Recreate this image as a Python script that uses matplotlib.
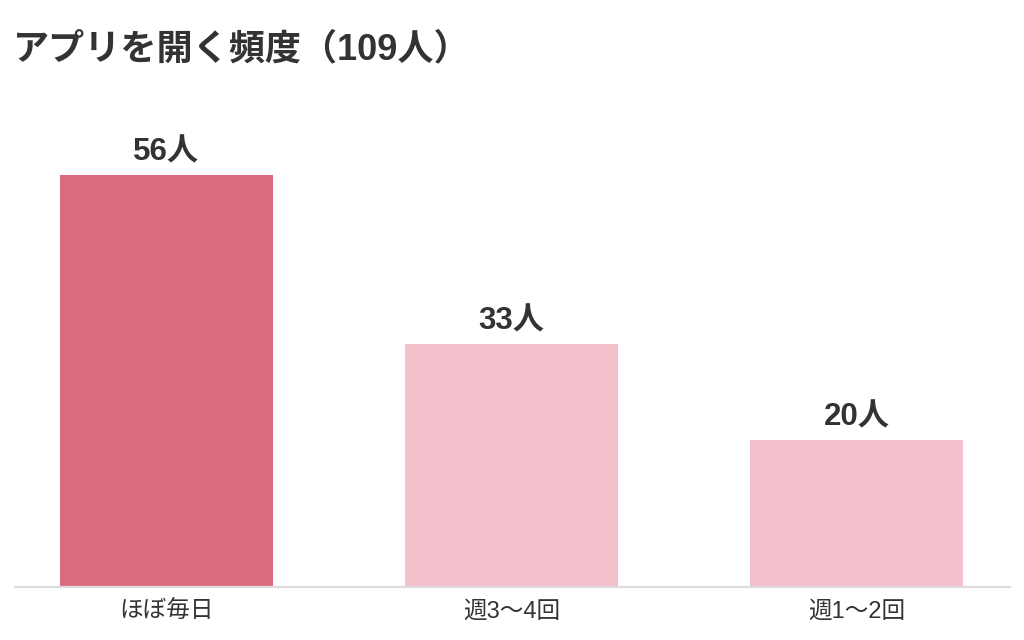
import matplotlib
matplotlib.use('Agg')
import matplotlib.pyplot as plt

plt.rcParams['font.family'] = ['Liberation Sans', 'Noto Sans CJK JP', 'DejaVu Sans']

categories = ['ほぼ毎日', '週3〜4回', '週1〜2回']
counts = [56, 33, 20]
colors = ['#d96a80', '#f4c0cc', '#f4c0cc']
title = 'アプリを開く頻度（109人）'

fig = plt.figure(figsize=(10.24, 6.4), dpi=100)
# axes placed so baseline sits at y=587px, spanning x 15..1010px
ax = fig.add_axes([15 / 1024, (640 - 587) / 640, 995 / 1024, 487 / 640])

x = range(len(categories))
ax.bar(x, counts, width=0.617, color=colors, zorder=2)
for xi, c in zip(x, counts):
    ax.text(xi, c + 1.0, f'{c}人', ha='center', va='bottom',
            fontsize=22.5, fontweight='bold', color='#333333')

ax.set_xlim(-0.439, 2.445)
ax.set_ylim(0, 66.2)
ax.set_xticks(list(x))
ax.set_xticklabels(categories, fontsize=17, color='#333333')
ax.tick_params(axis='x', length=0, pad=10)
ax.set_yticks([])
for s in ['top', 'right', 'left']:
    ax.spines[s].set_visible(False)
ax.spines['bottom'].set_color('#dddddd')
ax.spines['bottom'].set_linewidth(1.6)

fig.text(13 / 1024, 1 - 50 / 640, title, fontsize=26, fontweight='bold',
         color='#333333', ha='left', va='center')

fig.savefig('out.png', dpi=100)
